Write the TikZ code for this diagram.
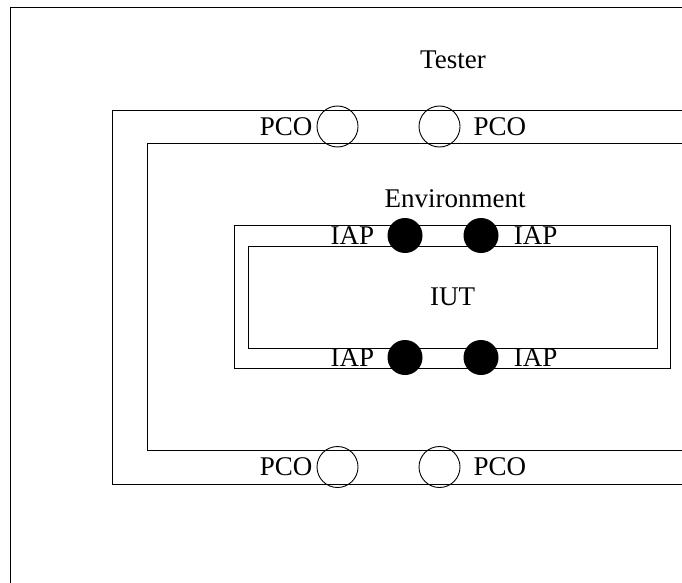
\documentclass[tikz,border=0pt]{standalone}
\usepackage{fontspec}
\setmainfont{Liberation Serif}
\usetikzlibrary{positioning}

\tikzstyle{every node}=[font={\fontsize{27}{29}\selectfont}, inner sep=0pt]
\tikzstyle{frame}=[line width=0.9pt]
\tikzstyle{pco}=[draw, circle, frame, minimum size=41pt]
\tikzstyle{iap}=[fill=black, circle, minimum size=35pt]

\begin{document}
\begin{tikzpicture}[x=1pt,y=-1pt]
    \useasboundingbox (0,0) rectangle (682,583);
    % tester and environment frames, cut at the page edge
    \draw [frame] (682,7) -- (10,7) -- (10,583);
    \draw [frame] (682,110) -- (112,110) -- (112,484) -- (682,484);
    \draw [frame] (682,143) -- (147,143) -- (147,450) -- (682,450);
    \node (tester) at (453,60) {Tester};
    \node (env) at (455,199) {Environment};
    \node [draw, frame, minimum width=436pt, minimum height=143pt] (envbox) at (452,296.5) {};
    \node [draw, frame, minimum width=409pt, minimum height=102pt] (iut) at (452.5,297) {IUT};
    % points of control and observation
    \node [pco] (pcoTL) at (337.5,126.5) {};
    \node [pco] (pcoTR) at (439.5,126.5) {};
    \node [pco] (pcoBL) at (337.5,467) {};
    \node [pco] (pcoBR) at (439.5,467) {};
    \node [left=4pt of pcoTL] (pcoTLlabel) {PCO};
    \node [right=13pt of pcoTR] (pcoTRlabel) {PCO};
    \node [left=4pt of pcoBL] (pcoBLlabel) {PCO};
    \node [right=13pt of pcoBR] (pcoBRlabel) {PCO};
    % implementation access points
    \node [iap] (iapTL) at (405,235.5) {};
    \node [iap] (iapTR) at (481,235.5) {};
    \node [iap] (iapBL) at (405,357.5) {};
    \node [iap] (iapBR) at (481,357.5) {};
    \node [left=13pt of iapTL] (iapTLlabel) {IAP};
    \node [right=15pt of iapTR] (iapTRlabel) {IAP};
    \node [left=13pt of iapBL] (iapBLlabel) {IAP};
    \node [right=15pt of iapBR] (iapBRlabel) {IAP};
\end{tikzpicture}
\end{document}
